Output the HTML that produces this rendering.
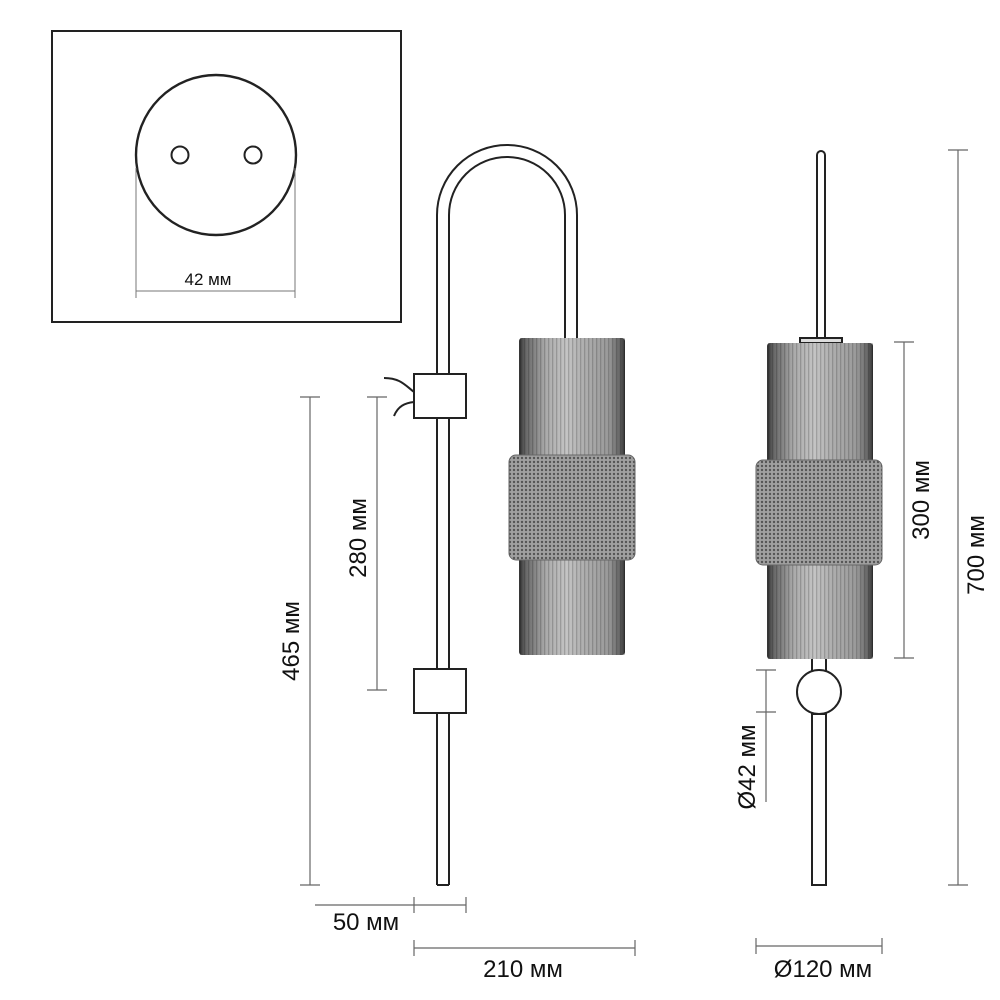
<!DOCTYPE html><html><head><style>body{margin:0;background:#fff}svg{display:block}text{font-family:"Liberation Sans",sans-serif;fill:#111}</style></head><body>
<svg width="1000" height="1000" viewBox="0 0 1000 1000" xmlns="http://www.w3.org/2000/svg">
<defs>
<linearGradient id="cyl" x1="0" x2="1">
<stop offset="0" stop-color="#333"/><stop offset="0.06" stop-color="#666"/><stop offset="0.25" stop-color="#aaa"/><stop offset="0.45" stop-color="#c4c4c4"/><stop offset="0.6" stop-color="#b0b0b0"/><stop offset="0.85" stop-color="#999"/><stop offset="0.95" stop-color="#666"/><stop offset="1" stop-color="#333"/>
</linearGradient>
<pattern id="flute" width="4" height="10" patternUnits="userSpaceOnUse"><rect width="1.3" height="10" fill="#000" opacity="0.18"/></pattern>
<pattern id="knurl" width="4" height="4" patternUnits="userSpaceOnUse"><rect width="4" height="4" fill="#a0a0a0"/><circle cx="2" cy="2" r="1.2" fill="#555"/></pattern>
</defs>
<g fill="none" stroke="#222" stroke-width="2">
<rect x="52" y="31" width="349" height="291"/>
<circle cx="216" cy="155" r="80" stroke-width="2.4"/>
<circle cx="180" cy="155" r="8.5"/><circle cx="253" cy="155" r="8.5"/>
</g>
<g stroke="#777" stroke-width="1" fill="none">
<line x1="136" y1="168" x2="136" y2="298"/><line x1="295" y1="168" x2="295" y2="298"/><line x1="136" y1="291" x2="295" y2="291"/>
</g>
<text x="208" y="285" font-size="17" text-anchor="middle">42 мм</text>

<g fill="none" stroke="#222" stroke-width="2">
<path d="M437 885 V215 A70 70 0 0 1 577 215 V338"/>
<path d="M449 885 V215 A58 58 0 0 1 565 215 V338"/>
<line x1="437" y1="885" x2="449" y2="885"/>
<rect x="414" y="374" width="52" height="44" fill="#fff"/>
<rect x="414" y="669" width="52" height="44" fill="#fff"/>
<path d="M384 378 C400 378 405 385 414 392"/><path d="M394 416 C398 406 405 403 414 402"/>
</g>
<rect x="519" y="338" width="106" height="317" fill="url(#cyl)" rx="3"/>
<rect x="519" y="338" width="106" height="317" fill="url(#flute)"/>
<rect x="509" y="455" width="126" height="105" rx="7" fill="url(#knurl)" stroke="#666"/>

<g fill="none" stroke="#222" stroke-width="2">
<path d="M817 338 V155 A4 4 0 0 1 825 155 V338"/>
<rect x="800" y="338" width="42" height="5" fill="#ddd"/>
<path d="M812 659 V673 M826 659 V673"/>
<circle cx="819" cy="692" r="22" fill="#fff"/>
<rect x="812" y="714" width="14" height="171" fill="#fff"/>
</g>
<rect x="767" y="343" width="106" height="316" fill="url(#cyl)" rx="3"/>
<rect x="767" y="343" width="106" height="316" fill="url(#flute)"/>
<rect x="756" y="460" width="126" height="105" rx="7" fill="url(#knurl)" stroke="#666"/>

<g stroke="#666" stroke-width="1.2" fill="none">
<path d="M310 397 V885 M300 397 H320 M300 885 H320"/>
<path d="M377 397 V690 M367 397 H387 M367 690 H387"/>
<path d="M904 342 V658 M894 342 H914 M894 658 H914"/>
<path d="M958 150 V885 M948 150 H968 M948 885 H968"/>
<path d="M766 670 V802 M756 670 H776 M756 712 H776"/>
<path d="M315 905 H466 M414 897 V913 M466 897 V913"/>
<path d="M414 948 H635 M414 940 V956 M635 940 V956"/>
<path d="M756 946 H882 M756 938 V954 M882 938 V954"/>
</g>
<g font-size="24">
<text transform="translate(299 641) rotate(-90)" text-anchor="middle">465 мм</text>
<text transform="translate(366 538) rotate(-90)" text-anchor="middle">280 мм</text>
<text transform="translate(929 500) rotate(-90)" text-anchor="middle">300 мм</text>
<text transform="translate(984 555) rotate(-90)" text-anchor="middle">700 мм</text>
<text transform="translate(755 767) rotate(-90)" text-anchor="middle">Ø42 мм</text>
<text x="366" y="930" text-anchor="middle">50 мм</text>
<text x="523" y="977" text-anchor="middle">210 мм</text>
<text x="823" y="977" text-anchor="middle">Ø120 мм</text>
</g>
</svg>
</body></html>
